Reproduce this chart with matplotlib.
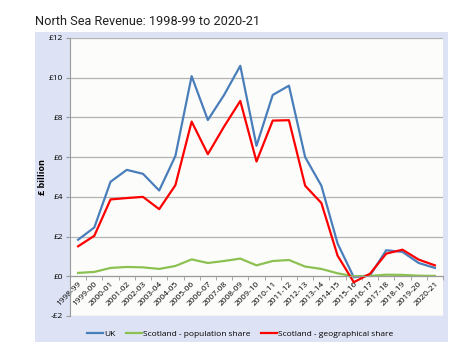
import numpy as np
import matplotlib
matplotlib.use('Agg')
from matplotlib import pyplot as plt

# Datos (en £ billones)
years = ['1998-99', '1999-00', '2000-01', '2001-02', '2002-03', '2003-04', '2004-05',
         '2005-06', '2006-07', '2007-08', '2008-09', '2009-10', '2010-11', '2011-12',
         '2012-13', '2013-14', '2014-15', '2015-16', '2016-17', '2017-18', '2018-19',
         '2019-20', '2020-21']
uk = [1.84, 2.46, 4.76, 5.36, 5.16, 4.32, 6.06, 10.08, 7.87, 9.13, 10.6, 6.57, 9.13, 9.6,
      6.0, 4.56, 1.65, -0.05, 0.05, 1.31, 1.23, 0.67, 0.42]
pop_share = [0.17, 0.22, 0.42, 0.47, 0.45, 0.37, 0.52, 0.85, 0.67, 0.77, 0.89, 0.55, 0.77, 0.82,
             0.49, 0.37, 0.15, 0.0, 0.02, 0.08, 0.07, 0.03, 0.02]
geo_share = [1.51, 2.04, 3.87, 3.94, 4.0, 3.38, 4.59, 7.79, 6.15, 7.54, 8.83, 5.78, 7.84, 7.86,
             4.56, 3.69, 1.04, -0.3, 0.13, 1.14, 1.34, 0.84, 0.55]
yticks = [-2, 0, 2, 4, 6, 8, 10, 12]
ytick_labels = ['-£2', '£0', '£2', '£4', '£6', '£8', '£10', '£12']

plt.rcParams['font.family'] = ['Open Sans', 'DejaVu Sans']

fig = plt.figure(figsize=(4.77, 3.57), dpi=100)
fig.patch.set_facecolor('white')

# Fondo lavanda del grafico (ejes vacios detras)
bg = fig.add_axes([35/477, 1-342/357, 413/477, 310/357], zorder=-1)
bg.set_facecolor('#dde3f4')
bg.set_xticks([])
bg.set_yticks([])
for s in bg.spines.values():
    s.set_visible(False)

ax = fig.add_axes([70/477, 1-316/357, 373/477, 278/357])
ax.set_facecolor('#fcfdfb')

x = np.arange(len(years))
l1, = ax.plot(x, uk, color='#4a7ebb', lw=1.6, label='UK')
l2, = ax.plot(x, pop_share, color='#8cc152', lw=1.6, label='Scotland - population share')
l3, = ax.plot(x, geo_share, color='#ff0000', lw=1.6, label='Scotland - geographical share')

ax.set_ylim(-2, 12)
ax.set_xlim(-0.5, len(years) - 0.5)
ax.set_yticks(yticks)
ax.set_yticklabels(ytick_labels, fontsize=6)
ax.yaxis.grid(True, color='#b3b3b3', lw=0.9)
ax.set_axisbelow(True)

# Eje x en cero, ticks entre categorias
ax.spines['bottom'].set_position(('data', 0))
ax.spines['bottom'].set_color('#9a9a9a')
ax.spines['left'].set_color('#9a9a9a')
ax.spines['top'].set_visible(False)
ax.spines['right'].set_visible(False)
ax.set_xticks(x)
ax.set_xticklabels(years, fontsize=6, rotation=45, ha='right', rotation_mode='anchor')
ax.set_xticks(np.arange(-0.5, len(years), 1), minor=True)
ax.tick_params(axis='x', which='major', length=0, pad=3)
ax.tick_params(axis='x', which='minor', length=3, color='#9a9a9a')
ax.tick_params(axis='y', length=3, color='#9a9a9a', pad=2)

ax.set_ylabel('£ billion', fontsize=6.5, fontweight='bold', labelpad=1)

fig.legend(handles=[l1, l2, l3], loc='center', bbox_to_anchor=(240/477, 1-334/357), ncol=3,
           frameon=False, fontsize=6, handlelength=2.0, handletextpad=0.1, columnspacing=1.2)

fig.text(35/477, 1-25/357, 'North Sea Revenue: 1998-99 to 2020-21', fontsize=9.2,
         family='Roboto', color='#222222')

plt.savefig('out.png', dpi=100)
plt.close()
